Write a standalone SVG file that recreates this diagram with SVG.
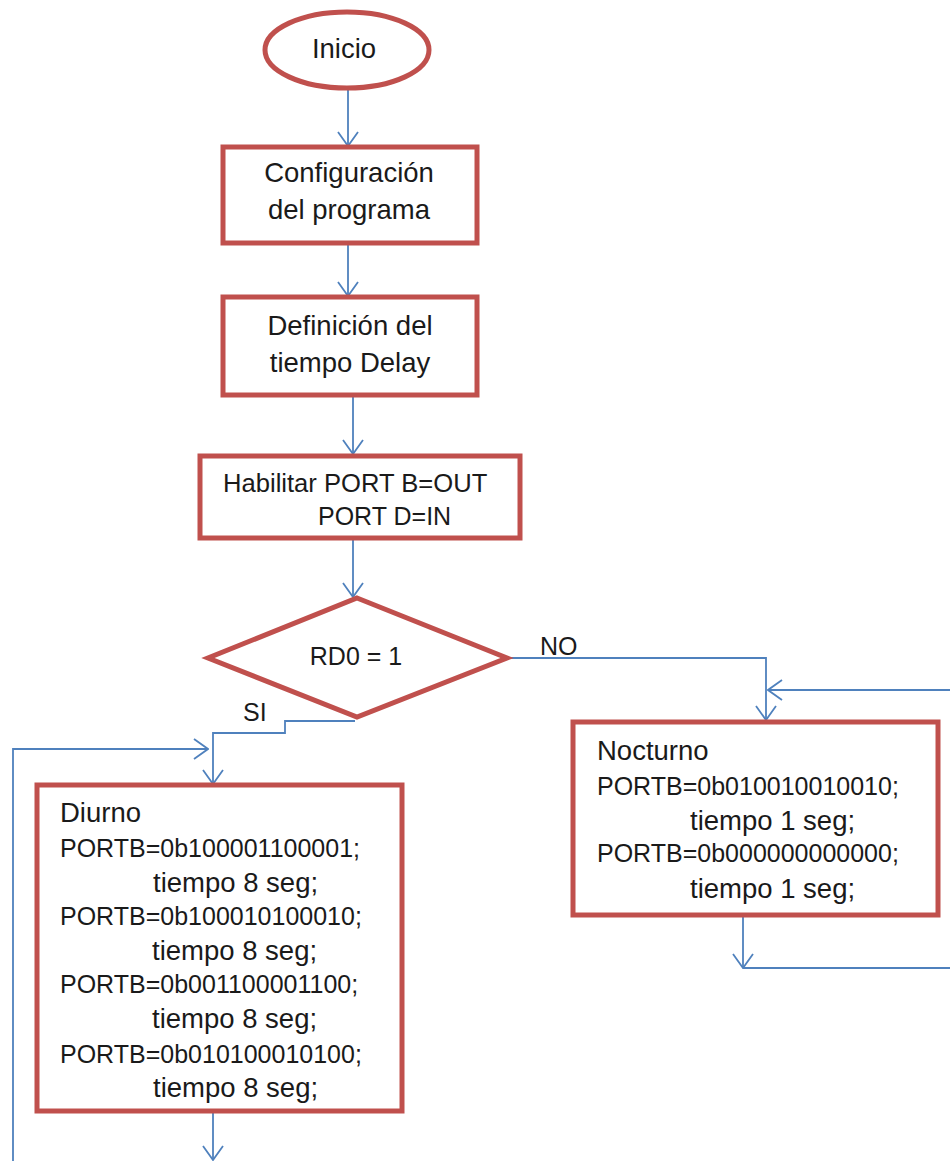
<svg xmlns="http://www.w3.org/2000/svg" width="950" height="1161" viewBox="0 0 950 1161">
<style>
.shape{fill:#ffffff;stroke:#c0504d;stroke-width:5}
.conn{fill:none;stroke:#4f81bd;stroke-width:1.8}
text{font-family:"Liberation Sans",Arial,sans-serif;font-size:25px;fill:#1a1a1a}
.c{text-anchor:middle}
.lc{font-size:27.5px}
</style>
<defs>
<marker id="arr" viewBox="0 0 16 24" refX="15" refY="12" markerWidth="16" markerHeight="24" markerUnits="userSpaceOnUse" orient="auto">
<path d="M1,2 L15,12 L1,22" fill="none" stroke="#4f81bd" stroke-width="1.8"/>
</marker>
</defs>
<rect width="950" height="1161" fill="#ffffff"/>
<g id="connectors">
<path class="conn" d="M348,90 V146" marker-end="url(#arr)"/>
<path class="conn" d="M348,245 V296" marker-end="url(#arr)"/>
<path class="conn" d="M353,397 V454" marker-end="url(#arr)"/>
<path class="conn" d="M353,538 V597" marker-end="url(#arr)"/>
<path class="conn" d="M507,658 H766 V720" marker-end="url(#arr)"/>
<path class="conn" d="M950,690 H768" marker-end="url(#arr)"/>
<path class="conn" d="M743,917 V968" marker-end="url(#arr)"/>
<path class="conn" d="M743,968 H950"/>
<path class="conn" d="M355,721 H285 V733 H213 V784" marker-end="url(#arr)"/>
<path class="conn" d="M13,1161 V749 H208" marker-end="url(#arr)"/>
<path class="conn" d="M213,1113 V1160" marker-end="url(#arr)"/>
<text x="540" y="655">NO</text>
<text x="243" y="721">SI</text>
</g>
<g id="inicio">
<ellipse class="shape" cx="347" cy="50" rx="82" ry="38"/>
<text class="c lc" x="344" y="58">Inicio</text>
</g>
<g id="configuracion">
<rect class="shape" x="223" y="147" width="254" height="96"/>
<text class="c lc" x="349" y="182">Configuración</text>
<text class="c lc" x="349" y="219">del programa</text>
</g>
<g id="definicion">
<rect class="shape" x="223" y="297" width="254" height="98"/>
<text class="c lc" x="350" y="335">Definición del</text>
<text class="c lc" x="350" y="372">tiempo Delay</text>
</g>
<g id="habilitar">
<rect class="shape" x="200" y="456" width="320" height="82"/>
<text x="223" y="492" style="font-size:25.6px">Habilitar PORT B=OUT</text>
<text x="318" y="525">PORT D=IN</text>
</g>
<g id="decision">
<polygon class="shape" points="357,598 507,658 357,717 208,658"/>
<text class="c" x="356" y="665">RD0 = 1</text>
</g>
<g id="nocturno">
<rect class="shape" x="573" y="722" width="365" height="193"/>
<text class="lc" x="597" y="760">Nocturno</text>
<text x="597" y="795">PORTB=0b010010010010;</text>
<text class="lc" x="690" y="830">tiempo 1 seg;</text>
<text x="597" y="862">PORTB=0b000000000000;</text>
<text class="lc" x="690" y="898">tiempo 1 seg;</text>
</g>
<g id="diurno">
<rect class="shape" x="37" y="785" width="365" height="326"/>
<text class="lc" x="60" y="822">Diurno</text>
<text x="60" y="857">PORTB=0b100001100001;</text>
<text class="lc" x="153" y="892">tiempo 8 seg;</text>
<text x="60" y="925">PORTB=0b100010100010;</text>
<text class="lc" x="152" y="960">tiempo 8 seg;</text>
<text x="60" y="993">PORTB=0b001100001100;</text>
<text class="lc" x="152" y="1028">tiempo 8 seg;</text>
<text x="60" y="1063">PORTB=0b010100010100;</text>
<text class="lc" x="153" y="1097">tiempo 8 seg;</text>
</g>
</svg>
